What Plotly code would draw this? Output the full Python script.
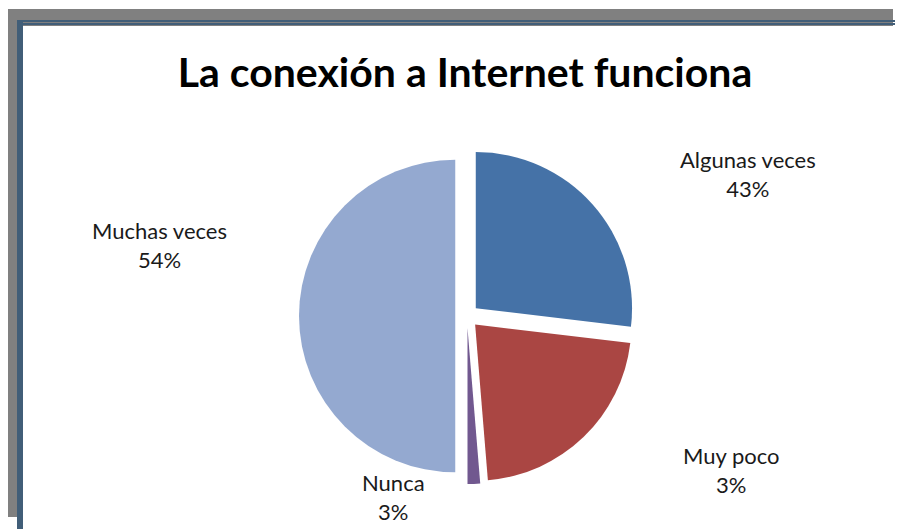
import plotly.graph_objects as go

# datos
categorias = ['Algunas veces', 'Muy poco', 'Nunca', 'Muchas veces']
valores = [26.9, 21.8, 1.3, 50.0]  # tamaño de cada porción
porcentajes = ['43%', '3%', '3%', '54%']  # etiquetas tal como aparecen
colores = ['#4572A7', '#AA4643', '#71588F', '#94A9D0']

W, H = 903, 529
OFF = 8  # margen del <body> de la página

# posición de las etiquetas (px en la imagen)
pos_etiquetas = [(748, 174), (731, 470), (393, 497), (159, 245)]


def px(x):
    return (x - OFF) / W


def py(y):
    return 1 - (y - OFF) / H


cx, cy, half = 467, 316, 168

fig = go.Figure(
    go.Pie(
        labels=categorias,
        values=valores,
        sort=False,
        direction='clockwise',
        rotation=0,
        pull=[0.075, 0.075, 0.075, 0.075],
        marker=dict(colors=colores, line=dict(width=0)),
        textinfo='none',
        showlegend=False,
        domain=dict(x=[px(cx - half), px(cx + half)],
                    y=[py(cy + half), py(cy - half)]),
    )
)

for cat, pct, (lx, ly) in zip(categorias, porcentajes, pos_etiquetas):
    fig.add_annotation(
        x=px(lx), y=py(ly), xref='paper', yref='paper',
        text=cat + '<br>' + pct, showarrow=False,
        xanchor='center', yanchor='middle', align='center',
        font=dict(family='Lato', size=22, color='#1a1a1a'),
    )


# marco
def rect(x0, y0, x1, y1, color):
    fig.add_shape(type='rect', xref='paper', yref='paper',
                  x0=px(x0), x1=px(x1), y0=py(y1), y1=py(y0),
                  fillcolor=color, line=dict(width=0), layer='below')


rect(7, 9, 893, 26, '#808080')
rect(7, 9, 17, 517, '#808080')
rect(17, 20, 911, 22, '#415E78')
rect(17, 23, 911, 25, '#415E78')
rect(17, 20, 23, 537, '#415E78')

fig.update_layout(
    width=W,
    height=H,
    margin=dict(l=0, r=0, t=0, b=0),
    paper_bgcolor='white',
    plot_bgcolor='white',
    title=dict(text='<b>La conexión a Internet funciona</b>', x=px(465), xanchor='center',
               y=py(73), yanchor='middle',
               font=dict(family='Lato', size=41, color='black')),
)
fig.write_html('out.html')
